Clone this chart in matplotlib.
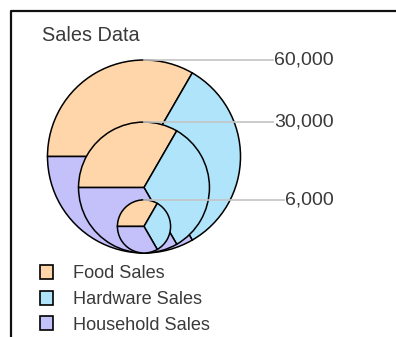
import matplotlib
matplotlib.use("Agg")
import matplotlib.pyplot as plt
from matplotlib.patches import Patch

# datos
series = ["Food Sales", "Hardware Sales", "Household Sales"]
bubble_labels = ["60,000", "30,000", "6,000"]
food = [20000, 10000, 2000]
hardware = [20000, 10000, 2000]
household = [20000, 10000, 2000]

colors = ["#FFD6AA", "#B0E4FA", "#C4C0FA"]

W, H = 396, 337
plt.rcParams["font.family"] = ["Liberation Sans", "DejaVu Sans"]

fig = plt.figure(figsize=(W / 100, H / 100), dpi=100)
ax = fig.add_axes([0, 0, 1, 1])

# marco
ax.plot([11, 11, W], [0, H - 10.5, H - 10.5], color="#111111", lw=1.6, clip_on=False)

ax.text(42, H - 41, "Sales Data", fontsize=14.3, color="#3a3a3a", va="baseline")

# burbujas: todas tangentes abajo, radio segun total
cx, bottom = 144, H - 253
r_max = 96.5
totals = [f + hw + hh for f, hw, hh in zip(food, hardware, household)]
vmax = max(totals)
label_x = 334

for i in range(len(totals)):
    r = r_max * (totals[i] / vmax) ** 0.56
    cy = bottom + r
    vals = [food[i], hardware[i], household[i]]
    ax.pie(vals, center=(cx, cy), radius=r, startangle=180, counterclock=False,
           colors=colors, wedgeprops=dict(edgecolor="black", linewidth=1.1),
           frame=True)

for i in range(len(totals)):
    r = r_max * (totals[i] / vmax) ** 0.56
    top = bottom + 2 * r
    ax.plot([cx, label_x - 10], [top, top], color="#C4C4C4", lw=1.2, zorder=5)
    ax.text(label_x, top, bubble_labels[i], fontsize=14, color="#3a3a3a",
            ha="right", va="center", zorder=6,
            bbox=dict(facecolor="white", edgecolor="none", pad=0))

ax.set_xlim(0, W)
ax.set_ylim(0, H)
ax.set_aspect("equal")
ax.axis("off")

handles = [Patch(facecolor=c, edgecolor="black", lw=1.2) for c in colors]
fig.legend(handles, series, loc="upper left", bbox_to_anchor=(40 / W, 1 - 265 / H),
           frameon=False, fontsize=13.1, handlelength=0.7, handleheight=0.8,
           handletextpad=1.1, labelspacing=0.46, borderpad=0, borderaxespad=0,
           labelcolor="#3a3a3a")

fig.savefig("out.png", dpi=100)
